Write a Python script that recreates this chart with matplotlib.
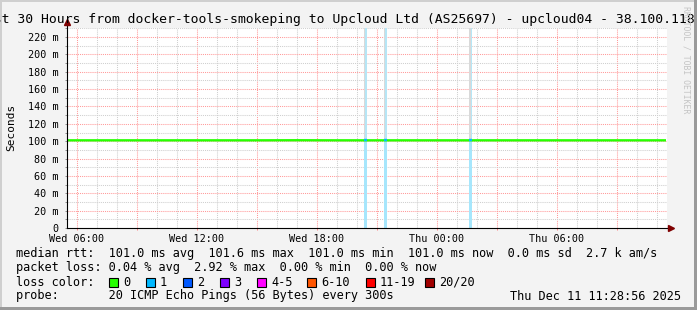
import matplotlib
matplotlib.use("Agg")
import matplotlib.pyplot as plt
from matplotlib.patches import Rectangle
from matplotlib.ticker import MultipleLocator
import numpy as np

#-------------------------------------------------------------------------------
# Data (time in hours from Wed 00:00, rtt in ms)

sample_hours = [5.5, 7.0, 9.0, 11.0, 13.0, 15.0, 17.0, 19.0, 21.0, 23.0,
                25.0, 27.0, 29.0, 31.0, 33.0, 35.45]
median_ms = [101.0, 101.0, 101.0, 101.0, 101.0, 101.0, 101.1, 101.0, 101.0,
             101.0, 101.0, 101.0, 101.0, 101.0, 101.0, 101.0]

# intervals with visible smoke above the median
smoke_start = [9.35, 15.8, 16.6, 17.1]
smoke_end = [9.5, 16.25, 16.8, 17.4]
smoke_top_ms = [101.4, 101.6, 101.4, 101.4]

# intervals with packet loss (1 of 20 pings lost)
loss_hours = [20.42, 21.42, 25.68]
loss_lost = [1, 1, 1]

x_tick_hours = [6, 12, 18, 24, 30]
x_tick_labels = ["Wed 06:00", "Wed 12:00", "Wed 18:00", "Thu 00:00", "Thu 06:00"]
y_tick_ms = [0, 20, 40, 60, 80, 100, 120, 140, 160, 180, 200, 220]

loss_labels = ["0", "1", "2", "3", "4-5", "6-10", "11-19", "20/20"]
loss_colors = ["#26ff00", "#00b8ff", "#0059ff", "#7e00ff", "#ff00ff",
               "#ff5500", "#ff0000", "#a00000"]

title = "Last 30 Hours from docker-tools-smokeping to Upcloud Ltd (AS25697) - upcloud04 - 38.100.118.20"
legend_rtt = "median rtt:  101.0 ms avg  101.6 ms max  101.0 ms min  101.0 ms now  0.0 ms sd  2.7 k am/s"
legend_loss = "packet loss: 0.04 % avg  2.92 % max  0.00 % min  0.00 % now"
legend_probe = "probe:       20 ICMP Echo Pings (56 Bytes) every 300s"
stamp = "Thu Dec 11 11:28:56 2025"

#-------------------------------------------------------------------------------

W, H = 697, 310
MONO = "DejaVu Sans Mono"


def fx(px):
  return px / W


def fy(py):
  return 1 - py / H


fig = plt.figure(figsize=(W / 100, H / 100), dpi=100, facecolor="#f3f3f3")
ax = fig.add_axes([fx(67), fy(228), 600 / W, 200 / H])
ax.set_facecolor("white")
x_lo, x_hi = 5.5, 35.5
y_hi = 230.4
ax.set_xlim(x_lo, x_hi)
ax.set_ylim(0, y_hi)
for s in ax.spines.values():
  s.set_visible(False)

# grid: grey minor, red major
dot = (0, (1, 1))
for h in np.arange(6, 36, 1):
  if h % 3 == 0:
    ax.axvline(h, color="#ff9a9a", lw=0.75, ls=dot, zorder=1)
  else:
    ax.axvline(h, color="#cfcfcf", lw=0.75, ls=dot, zorder=1)
for v in np.arange(10, 231, 10):
  if v % 20 == 0:
    ax.axhline(v, color="#ff9a9a", lw=0.75, ls=dot, zorder=1)
  else:
    ax.axhline(v, color="#cfcfcf", lw=0.75, ls=dot, zorder=1)

# loss bars
bw = 0.15
med_at = np.interp(loss_hours, sample_hours, median_ms)
for h, m, n in zip(loss_hours, med_at, loss_lost):
  ax.add_patch(Rectangle((h - bw / 2, 0), bw, m, color="#a6e6fc", lw=0, zorder=2))
  ax.add_patch(Rectangle((h - bw / 2, m), bw, y_hi - m, color="#d9d9d9", lw=0, zorder=2))
  ax.add_patch(Rectangle((h, m), bw / 2, y_hi - m, color="#b6e6f6", lw=0, zorder=2))

# smoke
for s, e, t in zip(smoke_start, smoke_end, smoke_top_ms):
  m = np.interp((s + e) / 2, sample_hours, median_ms)
  ax.add_patch(Rectangle((s, m), e - s, t - m, color="#c8c8c8", lw=0, zorder=3))

# median line
ax.plot(sample_hours, median_ms, color=loss_colors[0], lw=1.7, zorder=4,
        solid_capstyle="butt")
for h, m, n in zip(loss_hours, med_at, loss_lost):
  ax.plot([h - bw / 2, h + bw / 2], [m, m], color=loss_colors[n], lw=1.7,
          zorder=5, solid_capstyle="butt")

# ticks and labels
ax.set_xticks(x_tick_hours, labels=x_tick_labels)
ax.xaxis.set_minor_locator(MultipleLocator(3))
ax.set_yticks(y_tick_ms, labels=["0" if v == 0 else "%d m" % v for v in y_tick_ms])
ax.yaxis.set_minor_locator(MultipleLocator(10))
ax.tick_params(axis="both", which="both", length=1.5, width=0.7,
               labelsize=7.3, labelcolor="black")
ax.tick_params(axis="x", which="both", color="#ff8080", pad=2.5)
ax.tick_params(axis="y", which="both", color="#909090", pad=4.5)
for lab in ax.get_xticklabels() + ax.get_yticklabels():
  lab.set_family(MONO)

# axis lines with arrows
ax.plot([0, 0], [0, 1.03], transform=ax.transAxes, color="black", lw=0.8,
        clip_on=False, zorder=6)
ax.plot([0, 1.005], [0, 0], transform=ax.transAxes, color="black", lw=0.8,
        clip_on=False, zorder=6)
ax.plot([0], [1.03], transform=ax.transAxes, marker="^", ms=4, color="#7f0000",
        clip_on=False, zorder=7)
ax.plot([1.007], [0], transform=ax.transAxes, marker=">", ms=4, color="#7f0000",
        clip_on=False, zorder=7)

# texts
fig.text(0.5, fy(19), title, family=MONO, size=9.45, ha="center", va="center")
fig.text(fx(11), fy(127), "Seconds", family=MONO, size=8.0, rotation=90,
         ha="center", va="center")
fig.text(fx(686), fy(60), "RRDTOOL / TOBI OETIKER", family=MONO, size=5.9,
         rotation=270, ha="center", va="center", color="#c4c4c4")

lsize = 8.55
fig.text(fx(16), fy(254), legend_rtt, family=MONO, size=lsize, va="center")
fig.text(fx(16), fy(268), legend_loss, family=MONO, size=lsize, va="center")
fig.text(fx(16), fy(282), "loss color:", family=MONO, size=lsize, va="center")
fig.text(fx(16), fy(296), legend_probe, family=MONO, size=lsize, va="center")
fig.text(fx(681), fy(296), stamp, family=MONO, size=lsize, va="center", ha="right")

box_px = [109, 146, 183, 220, 257, 307, 366, 425]
for bx, lab, col in zip(box_px, loss_labels, loss_colors):
  fig.patches.append(Rectangle((fx(bx), fy(286.5)), 9 / W, 9 / H, facecolor=col,
                               edgecolor="black", lw=0.8,
                               transform=fig.transFigure))
  fig.text(fx(bx + 14), fy(282), lab, family=MONO, size=lsize, va="center")

# 3d frame
fig.patches.append(Rectangle((0, 1 - 2 / H), 1, 2 / H, color="#cfcfcf", lw=0,
                             transform=fig.transFigure))
fig.patches.append(Rectangle((0, 0), 2 / W, 1, color="#cfcfcf", lw=0,
                             transform=fig.transFigure))
fig.patches.append(Rectangle((0, 0), 1, 3 / H, color="#9a9a9a", lw=0,
                             transform=fig.transFigure))
fig.patches.append(Rectangle((1 - 3 / W, 0), 3 / W, 1, color="#9a9a9a", lw=0,
                             transform=fig.transFigure))

fig.savefig("out.png", dpi=100, facecolor=fig.get_facecolor())
